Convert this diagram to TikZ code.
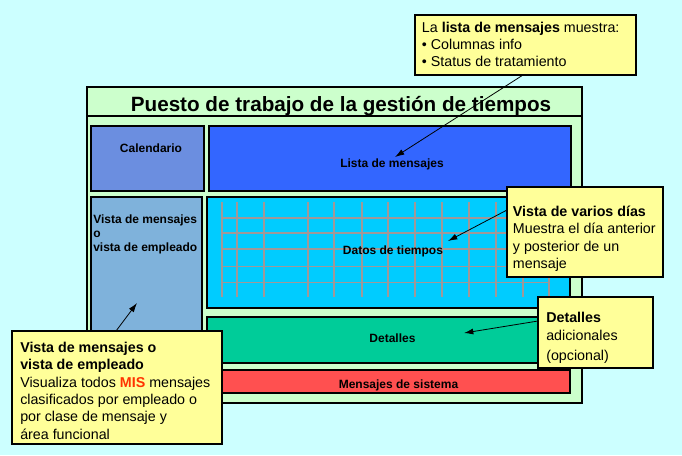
\documentclass[tikz,border=0pt]{standalone}
\usepackage{fontspec}
\setmainfont{Liberation Sans}
\usetikzlibrary{fit,arrows.meta}
\definecolor{bgc}{HTML}{CCFFFF}
\definecolor{framec}{HTML}{CCFFCC}
\definecolor{calc}{HTML}{6B8EE0}
\definecolor{listc}{HTML}{3366FF}
\definecolor{vistac}{HTML}{7FB2DB}
\definecolor{datosc}{HTML}{00CCFF}
\definecolor{detc}{HTML}{00CC99}
\definecolor{sysc}{HTML}{FF5050}
\definecolor{notec}{HTML}{FFFF99}
\definecolor{gridc}{HTML}{A09898}
\definecolor{misc}{HTML}{FF3300}
\begin{document}
\begin{tikzpicture}[x=0.75pt,y=-0.75pt,
  box/.style={draw=black, line width=0.9pt, inner sep=0pt, outer sep=0pt},
  lbl/.style={font=\bfseries\fontsize{9}{11}\selectfont, inner sep=0pt, anchor=base},
  lbll/.style={font=\bfseries\fontsize{9}{11}\selectfont, inner sep=0pt, anchor=base west},
  note/.style={draw=black, fill=notec, line width=0.8pt, inner sep=0pt, outer sep=0pt},
  nt/.style={font=\fontsize{10.7}{13}\selectfont, inner sep=0pt, anchor=base west},
  ntb/.style={nt, font=\bfseries\fontsize{10.7}{13}\selectfont},
  gridline/.style={draw=gridc, line width=0.9pt},
  ptr/.style={-{Latex[length=7pt,width=4.5pt]}, line width=0.6pt}]
\useasboundingbox (0,0) rectangle (682,455);
\fill[bgc] (0,0) rectangle (682,455);

% frame
\node[box, fill=framec, fit={(87,87) (582,403)}] (frame) {};
\draw[line width=0.9pt] (87,116) -- (582,116);
\node[font=\bfseries\fontsize{15.5}{18}\selectfont, inner sep=0pt, anchor=base] (title) at (341,111) {Puesto de trabajo de la gestión de tiempos};

% boxes
\node[box, fill=calc, fit={(91,126) (204,191)}] (cal) {};
\node[lbl] (calt) at (151,152.5) {Calendario};
\node[box, fill=listc, fit={(209,126) (571,191)}] (lista) {};
\node[lbl] (listat) at (392,167) {Lista de mensajes};
\node[box, fill=vistac, fit={(91,197) (202,393)}] (vista) {};
\node[lbll] (vt1) at (93,223.3) {Vista de mensajes};
\node[lbll] (vt2) at (93,237.6) {o};
\node[lbll] (vt3) at (93,251.9) {vista de empleado};
\node[box, fill=datosc, fit={(207,197) (570,308)}] (datos) {};
\foreach \gx in {222,237,264,308,334,362,388,415,442,469,496,523,549}
  \draw[gridline] (\gx,202) -- (\gx,297);
\foreach \gy in {218,233,249,266.5,282.5}
  \draw[gridline] (222,\gy) -- (549,\gy);
\node[lbl] (datost) at (393,254) {Datos de tiempos};
\node[box, fill=detc, fit={(207,317) (570,363)}] (det) {};
\node[lbl] (dett) at (392.5,342) {Detalles};
\node[box, fill=sysc, fit={(207,370) (570,393)}] (sys) {};
\node[lbl] (syst) at (398.5,388.3) {Mensajes de sistema};

% callout 1
\node[note, fit={(415,15) (636,75)}] (c1) {};
\node[nt] (c1a) at (421.7,32.3) {La \textbf{lista de mensajes} muestra:};
\node[nt] (c1b) at (421.7,49.3) {• Columnas info};
\node[nt] (c1c) at (421.7,66.5) {• Status de tratamiento};

% callout 2
\node[note, fit={(507,187) (663,277)}] (c2) {};
\node[ntb] (c2a) at (512.7,216) {Vista de varios días};
\node[nt] (c2b) at (512.7,233.5) {Muestra el día anterior};
\node[nt] (c2c) at (512.7,251) {y posterior de un};
\node[nt] (c2d) at (512.7,268.3) {mensaje};

% callout 3
\node[note, fit={(538,297) (653,368)}] (c3) {};
\node[ntb] (c3a) at (546,322.3) {Detalles};
\node[nt] (c3b) at (546,340) {adicionales};
\node[nt] (c3c) at (546,360) {(opcional)};

% callout 4
\node[note, fit={(12,331) (222,444)}] (c4) {};
\node[ntb] (c4a) at (20,352.3) {Vista de mensajes o};
\node[ntb] (c4b) at (20,369.8) {vista de empleado};
\node[nt] (c4c) at (20,387) {Visualiza todos \textbf{\textcolor{misc}{MIS}} mensajes};
\node[nt] (c4d) at (20,404.3) {clasificados por empleado o};
\node[nt] (c4e) at (20,421.7) {por clase de mensaje y};
\node[nt] (c4f) at (20,439) {área funcional};

% arrows
\coordinate (a1s) at (523,75);
\coordinate (a1t) at (395,157);
\coordinate (a2s) at (507,210);
\coordinate (a2t) at (448,241);
\coordinate (a3s) at (538,321);
\coordinate (a3t) at (464,333);
\coordinate (a4s) at (116,331);
\coordinate (a4t) at (137,303);
\draw[ptr] (c1.south -| a1s) -- (a1t);
\draw[ptr] (c2.west |- a2s) -- (a2t);
\draw[ptr] (c3.west |- a3s) -- (a3t);
\draw[ptr] (c4.north -| a4s) -- (a4t);
\end{tikzpicture}
\end{document}
